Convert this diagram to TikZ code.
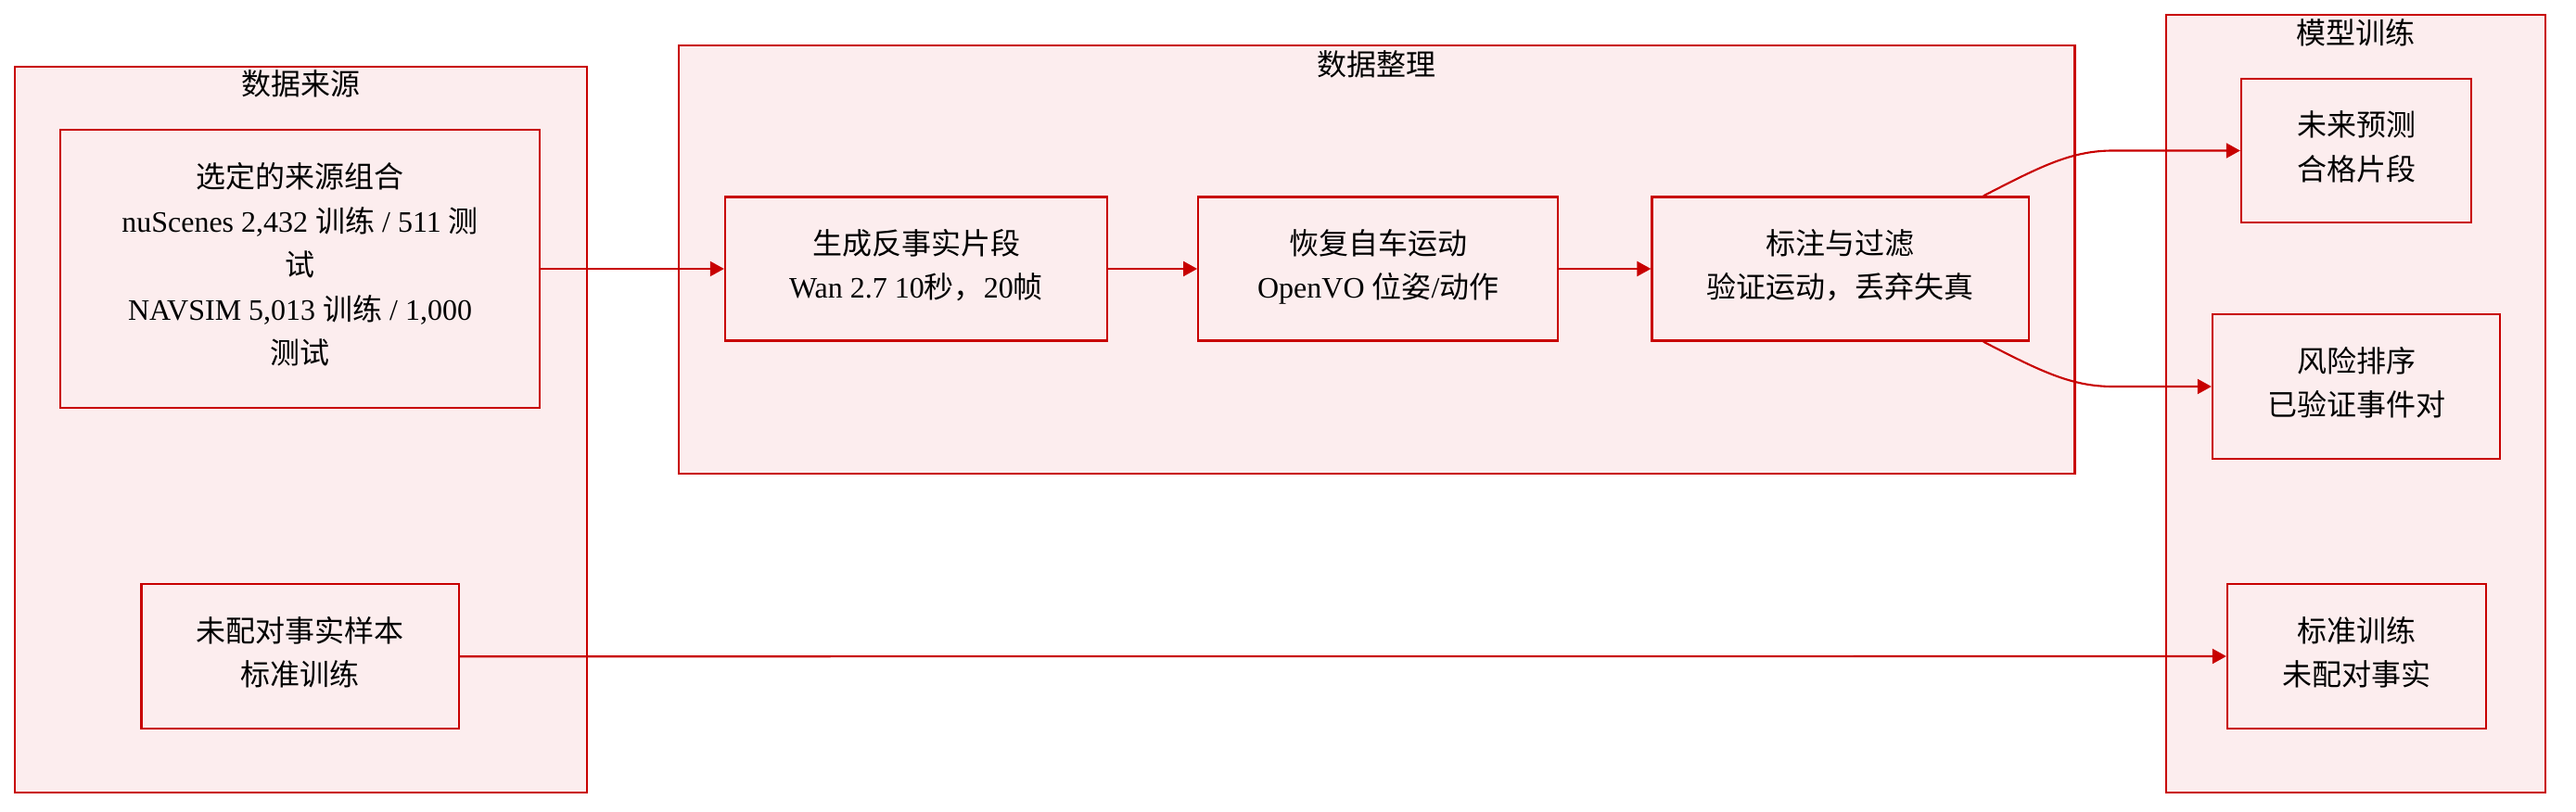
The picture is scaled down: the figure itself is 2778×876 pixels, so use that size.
\documentclass[tikz,border=0pt]{standalone}
\usepackage{fontspec}
\setmainfont{Liberation Serif}
\newfontfamily\cjk{Noto Sans CJK SC}
\newcommand{\zh}[1]{{\cjk #1}}
\usetikzlibrary{arrows.meta,positioning}
\definecolor{boxred}{RGB}{200,0,0}
\definecolor{boxfill}{RGB}{252,237,238}

\tikzstyle{arrow} = [line width=0.6pt,draw=boxred,-{Triangle[length=0.15cm,width=0.16cm]}]
\tikzstyle{group} = [
        rectangle,
        draw=boxred,
        line width=0.6pt,
        fill=boxfill
    ]
\tikzstyle{grouptitle} = [
        inner sep=0pt,
        font=\fontsize{9.1pt}{13.4pt}\selectfont\cjk
    ]
\tikzstyle{stage} = [
        rectangle,
        minimum height=1.55cm,
        text depth=3.2pt,
        align=center,
        draw=boxred,
        line width=0.6pt,
        fill=boxfill,
        font=\fontsize{9.1pt}{13.5pt}\selectfont
    ]

\begin{document}
\begin{tikzpicture}[x=0.01cm,y=-0.01cm,node distance=4.98cm]
        \useasboundingbox (0,0) rectangle (2778,876);
        \node [group, minimum width=6.17cm, minimum height=7.83cm] (sources) at (324.5,463.5) {};
        \node [grouptitle] (sourcestitle) at ([yshift=-0.2cm]sources.north) {数据来源};
        \node [group, minimum width=15.05cm, minimum height=4.62cm] (prep) at (1484.5,280) {};
        \node [grouptitle] (preptitle) at ([yshift=-0.22cm]prep.north) {数据整理};
        \node [group, minimum width=4.09cm, minimum height=8.39cm] (training) at (2540.5,435.5) {};
        \node [grouptitle] (trainingtitle) at ([yshift=-0.21cm]training.north) {模型训练};

        \node [stage, minimum width=4.12cm] (gen) at (988,290) {\zh{生成反事实片段}\\Wan 2.7 10\zh{秒，}20\zh{帧}};
        \node [stage, minimum width=3.88cm, right of=gen] (recov) {\zh{恢复自车运动}\\OpenVO \zh{位姿}/\zh{动作}};
        \node [stage, minimum width=4.06cm, right of=recov] (annot) {\zh{标注与过滤}\\\zh{验证运动，丢弃失真}};
        \node [stage, minimum width=5.17cm, minimum height=2.99cm, left of=gen, xshift=-1.66cm] (src) {\zh{选定的来源组合}\\nuScenes 2,432 \zh{训练} / 511 \zh{测}\\\zh{试}\\NAVSIM 5,013 \zh{训练} / 1,000\\\zh{测试}};
        \node [stage, minimum width=3.42cm, minimum height=1.56cm, below of=src, yshift=0.8cm] (unpaired) {\zh{未配对事实样本}\\\zh{标准训练}};

        \node [stage, minimum width=2.48cm] (future) at (2541,162.5) {\zh{未来预测}\\\zh{合格片段}};
        \node [stage, minimum width=3.1cm, minimum height=1.56cm] (risk) at (2541,417) {\zh{风险排序}\\\zh{已验证事件对}};
        \node [stage, minimum width=2.79cm, minimum height=1.56cm] (std) at (2541.5,708) {\zh{标准训练}\\\zh{未配对事实}};

        \draw [arrow] (src.east) -- (gen.west);
        \draw [arrow] (gen.east) -- (recov.west);
        \draw [arrow] (recov.east) -- (annot.west);
        \draw [arrow] (annot.27) .. controls ([shift={(0.62cm,0.32cm)}]annot.27) and ([xshift=-1.82cm]future.west) .. ([xshift=-1.37cm]future.west) -- (future.west);
        \draw [arrow] (annot.-27) .. controls ([shift={(0.62cm,-0.32cm)}]annot.-27) and ([xshift=-1.51cm]risk.west) .. ([xshift=-1.06cm]risk.west) -- (risk.west);
        \draw [arrow] (unpaired.east) -- (std.west);
    \end{tikzpicture}
\end{document}
